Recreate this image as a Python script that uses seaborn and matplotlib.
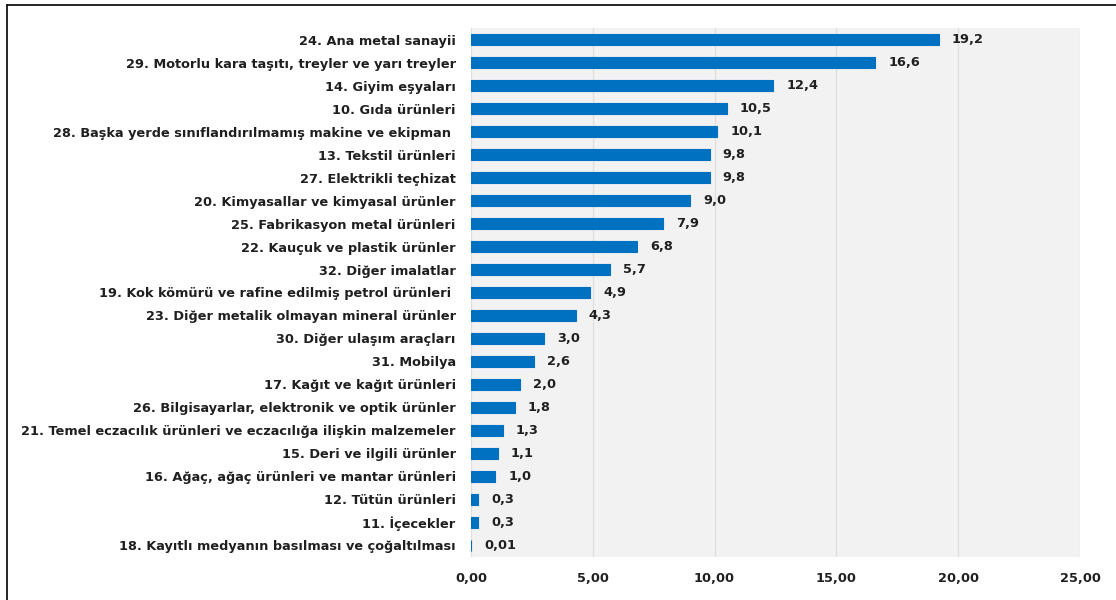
import matplotlib
matplotlib.use("Agg")
import matplotlib.pyplot as plt
import seaborn as sns
import pandas as pd
from matplotlib.lines import Line2D

categories = [
    "24. Ana metal sanayii",
    "29. Motorlu kara taşıtı, treyler ve yarı treyler",
    "14. Giyim eşyaları",
    "10. Gıda ürünleri",
    "28. Başka yerde sınıflandırılmamış makine ve ekipman ",
    "13. Tekstil ürünleri",
    "27. Elektrikli teçhizat",
    "20. Kimyasallar ve kimyasal ürünler",
    "25. Fabrikasyon metal ürünleri",
    "22. Kauçuk ve plastik ürünler",
    "32. Diğer imalatlar",
    "19. Kok kömürü ve rafine edilmiş petrol ürünleri ",
    "23. Diğer metalik olmayan mineral ürünler",
    "30. Diğer ulaşım araçları",
    "31. Mobilya",
    "17. Kağıt ve kağıt ürünleri",
    "26. Bilgisayarlar, elektronik ve optik ürünler",
    "21. Temel eczacılık ürünleri ve eczacılığa ilişkin malzemeler",
    "15. Deri ve ilgili ürünler",
    "16. Ağaç, ağaç ürünleri ve mantar ürünleri",
    "12. Tütün ürünleri",
    "11. İçecekler",
    "18. Kayıtlı medyanın basılması ve çoğaltılması",
]
values = [19.2, 16.6, 12.4, 10.5, 10.1, 9.8, 9.8, 9.0, 7.9, 6.8, 5.7, 4.9, 4.3,
          3.0, 2.6, 2.0, 1.8, 1.3, 1.1, 1.0, 0.3, 0.3, 0.01]
value_labels = ["19,2", "16,6", "12,4", "10,5", "10,1", "9,8", "9,8", "9,0", "7,9",
                "6,8", "5,7", "4,9", "4,3", "3,0", "2,6", "2,0", "1,8", "1,3", "1,1",
                "1,0", "0,3", "0,3", "0,01"]
x_ticks = [0, 5, 10, 15, 20, 25]
x_tick_labels = ["0,00", "5,00", "10,00", "15,00", "20,00", "25,00"]

sns.set_theme(style="white")
plt.rcParams['font.family'] = ['DejaVu Sans']

df = pd.DataFrame({"cat": categories, "val": values})

fig = plt.figure(figsize=(11.16, 6), dpi=100)
ax = fig.add_axes([0.422, 0.0717, 0.5457, 0.8816])
ax.set_facecolor("#F2F2F2")

sns.barplot(data=df, x="val", y="cat", orient="h", color="#0070C0",
            saturation=1, width=0.52, ax=ax, zorder=3,
            edgecolor="#0070C0", linewidth=0.8)

ax.set_xlim(0, 25)
ax.set_ylim(22.5, -0.5)
ax.set_xticks(x_ticks)
ax.set_xticklabels(x_tick_labels)
ax.xaxis.grid(True, color="#DDDDDD", linewidth=0.9, zorder=0)
ax.set_axisbelow(True)
ax.yaxis.grid(False)
for s in ax.spines.values():
    s.set_visible(False)
ax.set_xlabel("")
ax.set_ylabel("")
fs = 9.3
ax.tick_params(axis="y", length=0, pad=11, labelsize=fs, labelcolor="#1F1F1F")
ax.tick_params(axis="x", length=0, pad=11, labelsize=fs, labelcolor="#1F1F1F")
for lbl in ax.get_yticklabels() + ax.get_xticklabels():
    lbl.set_fontweight("bold")

for i, (v, t) in enumerate(zip(values, value_labels)):
    ax.annotate(t, xy=(v, i), xytext=(9.5, 0), textcoords="offset points",
                ha="left", va="center", fontsize=fs, fontweight="bold",
                color="#1F1F1F")

# figure border (left and top)
fig.add_artist(Line2D([7/1116, 7/1116], [0, 1 - 5/600], transform=fig.transFigure,
                      color="black", linewidth=1.2))
fig.add_artist(Line2D([7/1116, 1], [1 - 5/600, 1 - 5/600], transform=fig.transFigure,
                      color="black", linewidth=1.2))

fig.savefig("out.png", dpi=100)
